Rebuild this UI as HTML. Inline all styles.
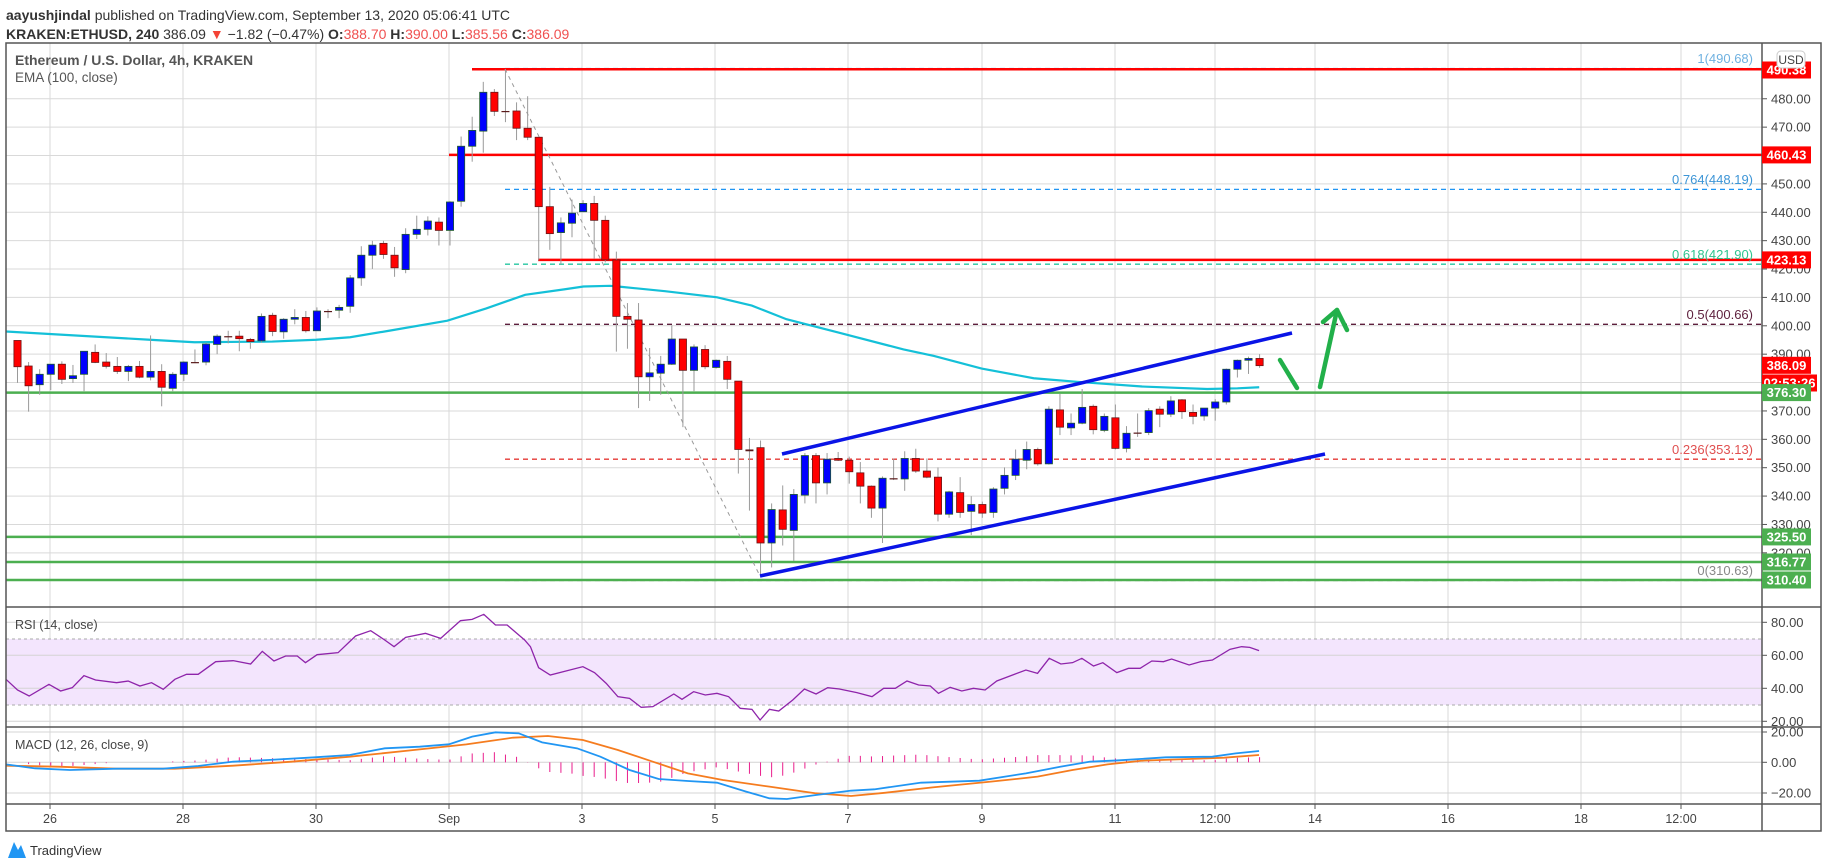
<!DOCTYPE html>
<html><head><meta charset="utf-8">
<style>
html,body{margin:0;padding:0;background:#fff;width:1828px;height:868px;overflow:hidden}
svg text{font-family:"Liberation Sans",sans-serif}
</style></head>
<body>
<svg id="s" width="1828" height="868" xmlns="http://www.w3.org/2000/svg">
<rect width="1828" height="868" fill="#fff"/>
<g id="grid"></g>
<g id="lines"></g>
<g id="cand"></g>
<g id="ov"></g>
<g id="ax"></g>
</svg>
<script>
const NS="http://www.w3.org/2000/svg";
function el(p,t,a,txt){const e=document.createElementNS(NS,t);for(const k in a)e.setAttribute(k,a[k]);if(txt!==undefined)e.textContent=txt;document.getElementById(p).appendChild(e);return e;}
const Y=z=>43+z*0.3597;
const PY=p=>69.3+(490.38-p)*2.838;
const L=6,R=1762,RB=1821;
// vertical grid
const vx=[50,183,316,449,582,715,848,982,1115,1215,1315,1448,1581,1681];
vx.forEach(x=>el('grid','line',{x1:x,y1:43,x2:x,y2:804,stroke:'#d9d9d9','stroke-width':1}));
for(let p=320;p<=480;p+=10){const y=PY(p);el('grid','line',{x1:L,y1:y,x2:R,y2:y,stroke:'#d9d9d9'});}
// rsi
el('grid','rect',{x:L,y:639,width:R-L,height:66,fill:'#f3e5fd'});
[622.3,655.3,688.3,721.3].forEach(y=>el('grid','line',{x1:L,y1:y,x2:R,y2:y,stroke:'#d4d4d4'}));
[639,705].forEach(y=>el('grid','line',{x1:L,y1:y,x2:R,y2:y,stroke:'#aaa','stroke-dasharray':'3,3'}));
[732,762.3,793].forEach(y=>el('grid','line',{x1:L,y1:y,x2:R,y2:y,stroke:'#d4d4d4'}));
// horizontal S/R lines
function hl(y,x1,c,w,d){el('lines','line',{x1:x1,y1:y,x2:R,y2:y,stroke:c,'stroke-width':w||2.5,'stroke-dasharray':d||''});}
// fib
hl(68.5,505,'#64b5f6',1.3,'5,4');
hl(189.4,505,'#2196f3',1.3,'5,4');
hl(264.2,505,'#26c6a0',1.3,'5,4');
hl(324.3,505,'#5d1f3c',1.3,'5,4');
hl(459.2,505,'#e53935',1.3,'5,4');
hl(580.5,505,'#999',1.3,'5,4');
hl(69.3,472,'#ff0000');hl(154.9,449,'#ff0000');hl(259.9,538,'#ff0000');
hl(392.6,L,'#4caf50');hl(536.9,L,'#4caf50');hl(562,L,'#4caf50');hl(580,L,'#4caf50');
// diag fib line
el('lines','line',{x1:505,y1:69,x2:760,y2:576,stroke:'#999','stroke-width':1,'stroke-dasharray':'4,4'});
// EMA
const e7=[[0,802],[385,825],[500,832],[700,830],[813,825],[900,818],[1000,800],[1150,772],[1250,738],[1350,700],[1450,685],[1500,677],[1568,675]];
const e8=[[50,678],[150,690],[270,707],[350,730],[430,768],[550,805],[700,852],[770,870],[880,905],[1000,932],[1100,942],[1250,955],[1400,962],[1470,960],[1520,957]];
let pts=e7.map(p=>[Math.max(L,p[0]*0.389),Y(p[1])]).concat(e8.map(p=>[600+p[0]*0.4337,Y(p[1])]));
el('lines','polyline',{points:pts.map(p=>p.join(',')).join(' '),fill:'none',stroke:'#14c0d8','stroke-width':2.2});
// candles [top,bot,wt,wb,color]
const C=[[827,900,827,945,'r'],[898,953,887,1025,'r'],[921,950,907,978,'b'],[893,921,893,965,'b'],[893,935,885,948,'r'],[925,933,895,945,'b'],[857,921,857,968,'b'],[860,888,838,890,'r'],[887,899,862,905,'r'],[899,913,873,920,'r'],[899,913,895,940,'b'],[899,929,884,932,'r'],[913,929,813,938,'b'],[913,957,893,1010,'r'],[921,960,915,968,'b'],[887,921,885,940,'b'],[887,889,852,890,'d'],[837,887,833,896,'b'],[815,838,810,865,'b'],[815,817,800,835,'d'],[815,822,800,857,'r'],[824,830,820,850,'r'],[760,828,752,833,'b'],[757,802,750,815,'r'],[768,803,765,822,'b'],[763,768,740,782,'b'],[763,800,745,805,'r'],[745,800,735,800,'b'],[745,747,740,765,'d'],[735,743,728,765,'b'],[653,732,645,750,'b'],[590,653,565,675,'b'],[562,590,550,628,'b'],[557,588,550,600,'r'],[590,625,567,650,'r'],[532,630,515,640,'b'],[518,532,480,545,'b'],[495,518,482,535,'b'],[498,521,485,563,'r'],[442,521,440,563,'b'],[287,440,260,455,'b'],[243,287,205,330,'b'],[137,245,108,305,'b'],[137,190,128,203,'r'],[189,191,73,220,'d'],[189,237,165,270,'r'],[237,262,148,270,'r'],[262,455,262,605,'r'],[455,530,400,575,'r'],[500,527,485,615,'b'],[473,501,435,540,'b'],[446,469,437,470,'b'],[446,493,425,600,'r'],[493,603,480,610,'r'],
[603,760,580,858,'r'],[760,768,723,850,'r'],[770,928,723,1015,'r'],[917,928,848,995,'b'],[893,918,870,978,'b'],[823,893,785,895,'b'],[823,910,823,1068,'r'],[845,910,838,968,'b'],[852,900,840,907,'r'],[882,902,880,905,'b'],[885,935,870,962,'r'],[940,1130,940,1197,'r'],[1130,1135,1098,1300,'d'],[1125,1390,1105,1480,'r'],[1297,1390,1280,1458,'b'],[1298,1352,1230,1397,'r'],[1255,1355,1240,1440,'b'],[1147,1257,1140,1280,'b'],[1147,1223,1140,1280,'r'],[1157,1223,1140,1255,'b'],[1155,1160,1137,1162,'r'],[1160,1192,1150,1225,'r'],[1195,1232,1165,1280,'r'],[1232,1293,1230,1320,'r'],[1210,1293,1205,1390,'b'],[1210,1213,1155,1215,'d'],[1155,1212,1135,1245,'b'],[1155,1190,1128,1195,'r'],[1190,1207,1155,1210,'r'],[1207,1310,1180,1330,'r'],[1248,1310,1245,1320,'b'],[1250,1305,1207,1320,'r'],[1283,1302,1260,1368,'b'],[1283,1307,1275,1320,'r'],[1240,1305,1235,1320,'b'],[1202,1238,1180,1255,'b'],[1157,1202,1130,1215,'b'],[1130,1160,1108,1185,'b'],[1130,1170,1125,1175,'r'],[1018,1170,1010,1172,'b'],[1020,1068,975,1090,'r'],[1057,1070,1030,1090,'b'],[1013,1057,962,1060,'b'],[1010,1075,1005,1088,'r'],[1038,1077,1030,1082,'b'],[1042,1127,1005,1130,'r'],[1085,1127,1065,1138,'b'],[1083,1085,1030,1095,'d'],[1022,1083,1015,1090,'b'],[1018,1032,1010,1068,'r'],[995,1032,982,1040,'b'],[992,1025,990,1045,'r'],[1027,1038,1005,1060,'r'],[1015,1037,1015,1050,'b'],[998,1015,990,1050,'b'],[907,998,905,1005,'b'],[882,907,880,930,'b'],[877,882,872,920,'b'],[877,897,865,903,'r']];
C.forEach((c,i)=>{const x=17.5+i*11.09;
 el('cand','line',{x1:x,y1:Y(c[2]),x2:x,y2:Y(c[3]),stroke:'#9a9a9a','stroke-width':1});
 const t=Y(c[0]),b=Y(c[1]);
 if(c[4]=='d'){el('cand','rect',{x:x-4,y:t,width:8,height:Math.max(1.2,b-t),fill:'#5a1a1a'});return;}
 el('cand','rect',{x:x-3.6,y:t,width:7.2,height:Math.max(1,b-t),fill:c[4]=='r'?'#ff0000':'#0000ff',stroke:c[4]=='r'?'#6b1515':'#1f5a2c','stroke-width':0.8});
});
// channel lines
el('ov','line',{x1:782,y1:454,x2:1292,y2:333,stroke:'#0a14e6','stroke-width':3.5});
el('ov','line',{x1:760,y1:576,x2:1325,y2:454,stroke:'#0a14e6','stroke-width':3.5});
// green arrows
el('ov','line',{x1:1280,y1:360,x2:1297,y2:388,stroke:'#22b04a','stroke-width':4.5,'stroke-linecap':'round'});
el('ov','line',{x1:1320,y1:387,x2:1337,y2:310,stroke:'#22b04a','stroke-width':4.5,'stroke-linecap':'round'});
el('ov','polyline',{points:'1323,322 1337,310 1347,330',fill:'none',stroke:'#22b04a','stroke-width':4.5,'stroke-linecap':'round','stroke-linejoin':'round'});
// fib labels
[['1(490.68)',63,'#6fb1e0'],['0.764(448.19)',184,'#3d95d6'],['0.618(421.90)',259,'#2fc48e'],['0.5(400.66)',319,'#5d1f3c'],['0.236(353.13)',454,'#e05050'],['0(310.63)',575,'#888']].forEach(f=>el('ov','text',{x:1753,y:f[1],'text-anchor':'end','font-size':13,fill:f[2]},f[0]));
// RSI
const rsi=[[5,298],[15,330],[25,348],[42,313],[52,333],[62,323],[72,287],[82,300],[100,308],[110,303],[120,318],[130,308],[140,328],[150,298],[160,283],[170,283],[185,245],[200,242],[215,252],[225,214],[235,243],[245,228],[255,228],[262,248],[272,224],[290,218],[305,168],[318,152],[330,180],[338,200],[348,172],[365,160],[378,175],[395,122],[405,118],[415,103],[425,135],[435,135],[450,180],[455,200],[462,263],[472,285],[500,260],[510,278],[520,310],[530,350],[540,355],[550,382],[560,380],[578,342],[585,358],[595,335],[605,345],[615,340],[625,350],[635,385],[645,388],[652,420],[660,388],[668,393],[680,360],[690,327],[700,342],[710,323],[720,327],[735,338],[748,350],[758,325],[768,325],[778,303],[788,315],[798,318],[805,340],[815,322],[825,333],[835,325],[845,330],[855,303],[870,283],[880,270],[890,280],[900,235],[910,252],[920,248],[928,235],[938,258],[946,248],[958,278],[968,265],[978,265],[988,243],[998,245],[1005,237],[1020,255],[1030,245],[1040,240],[1055,208],[1065,200],[1072,202],[1080,212]];
const T=p=>[Math.max(L,p[0]*1.1658),580+p[1]/3];
el('ov','polyline',{points:rsi.map(T).map(p=>p.join(',')).join(' '),fill:'none',stroke:'#8e24aa','stroke-width':1.3});
// MACD
const mb=[[5,553],[30,565],[60,570],[100,566],[140,566],[170,558],[200,545],[230,540],[270,532],[300,525],[330,505],[360,500],[385,493],[405,470],[425,457],[445,460],[465,487],[495,505],[515,530],[540,570],[565,597],[590,603],[615,608],[640,635],[660,655],[675,657],[700,645],[730,632],[750,628],[790,608],[840,602],[880,580],[910,560],[935,545],[960,541],[1000,532],[1040,530],[1060,520],[1080,513]];
const mo=[[5,557],[50,560],[100,566],[150,566],[200,557],[250,545],[300,530],[350,512],[400,493],[440,473],[470,468],[500,480],[530,510],[560,545],[590,580],[620,600],[660,620],[700,640],[730,648],[760,638],[800,622],[850,605],[890,590],[920,570],[950,553],[980,542],[1020,537],[1050,533],[1080,525]];
function interp(a,x){for(let i=0;i<a.length-1;i++){if(x>=a[i][0]&&x<=a[i+1][0]){const t=(x-a[i][0])/(a[i+1][0]-a[i][0]);return a[i][1]+t*(a[i+1][1]-a[i][1]);}}return a[a.length-1][1];}
for(let i=0;i<C.length;i++){const xr=17.5+i*11.09,xz=xr/1.1658;const d=(interp(mo,xz)-interp(mb,xz))*1.3;const y0=580+547/3,y1=580+(547-d)/3;
 el('ov','line',{x1:xr,y1:y0,x2:xr,y2:y1,stroke:'#e91e8c','stroke-width':1});}
el('ov','polyline',{points:mo.map(T).map(p=>p.join(',')).join(' '),fill:'none',stroke:'#f57c1f','stroke-width':1.8});
el('ov','polyline',{points:mb.map(T).map(p=>p.join(',')).join(' '),fill:'none',stroke:'#2196f3','stroke-width':1.8});
// frames
const A='ax';
el(A,'rect',{x:L,y:43,width:RB-L,height:831-43,fill:'none',stroke:'#555','stroke-width':1.5});
el(A,'line',{x1:R,y1:43,x2:R,y2:831,stroke:'#555','stroke-width':1.5});
[607,727,804].forEach(y=>el(A,'line',{x1:L,y1:y,x2:RB,y2:y,stroke:'#555','stroke-width':1.5}));
// price axis labels
function tick(y,t){el(A,'line',{x1:R,y1:y,x2:R+5,y2:y,stroke:'#555'});el(A,'text',{x:1771,y:y+4.5,'font-size':13,fill:'#444'},t);}
[480,470,450,440,430,420,410,400,390,370,360,350,340,330,320].forEach(p=>tick(PY(p),p.toFixed(2)));
[[622.3,'80.00'],[655.3,'60.00'],[688.3,'40.00'],[721.3,'20.00'],[732,'20.00'],[762.3,'0.00'],[793,'−20.00']].forEach(t=>tick(t[0],t[1]));
function box(y,t,c,w){el(A,'rect',{x:R,y:y-8.5,width:w||49,height:17,fill:c});el(A,'text',{x:R+(w||49)/2,y:y+4.5,'text-anchor':'middle','font-size':13,'font-weight':'bold',fill:'#fff'},t);}
box(70,'490.38','#ff0000');box(154.9,'460.43','#ff0000');box(259.9,'423.13','#ff0000');box(365.3,'386.09','#ff0000');box(383,'02:53:26','#ff0000',55);
box(392.6,'376.30','#4caf50');box(536.9,'325.50','#4caf50');box(562,'316.77','#4caf50');box(580,'310.40','#4caf50');
el(A,'rect',{x:1777,y:51,width:28,height:17,rx:4,fill:'#fff',stroke:'#ccc'});
el(A,'text',{x:1791,y:64,'text-anchor':'middle','font-size':12,fill:'#444'},'USD');
// time axis
const tl=['26','28','30','Sep','3','5','7','9','11','12:00','14','16','18','12:00'];
vx.forEach((x,i)=>{el(A,'line',{x1:x,y1:804,x2:x,y2:809,stroke:'#555'});el(A,'text',{x:x,y:823,'text-anchor':'middle','font-size':12.5,fill:'#444'},tl[i]);});
// texts
el(A,'text',{x:15,y:65,'font-size':14,'font-weight':'bold',fill:'#555'},'Ethereum / U.S. Dollar, 4h, KRAKEN');
el(A,'text',{x:15,y:82,'font-size':13.5,fill:'#555'},'EMA (100, close)');
el(A,'text',{x:15,y:629,'font-size':12.5,fill:'#444'},'RSI (14, close)');
el(A,'text',{x:15,y:749,'font-size':12.5,fill:'#444'},'MACD (12, 26, close, 9)');
// header
const h1=el(A,'text',{x:6,y:20,'font-size':14,fill:'#333'});
const s1=document.createElementNS(NS,'tspan');s1.setAttribute('font-weight','bold');s1.textContent='aayushjindal';h1.appendChild(s1);
h1.appendChild(document.createTextNode(' published on TradingView.com, September 13, 2020 05:06:41 UTC'));
const h2=el(A,'text',{x:6,y:39,'font-size':14,fill:'#333'});
function sp(t,a){const s=document.createElementNS(NS,'tspan');for(const k in a)s.setAttribute(k,a[k]);s.textContent=t;h2.appendChild(s);}
sp('KRAKEN:ETHUSD, 240',{'font-weight':'bold'});sp(' 386.09 ',{});sp('▼',{fill:'#f44336'});sp(' −1.82 (−0.47%) ',{});
sp('O:',{'font-weight':'bold'});sp('388.70 ',{fill:'#f05050'});sp('H:',{'font-weight':'bold'});sp('390.00 ',{fill:'#f05050'});
sp('L:',{'font-weight':'bold'});sp('385.56 ',{fill:'#f05050'});sp('C:',{'font-weight':'bold'});sp('386.09',{fill:'#f05050'});
// logo
el(A,'path',{d:'M8 858 L14 842 L18 850 L21 845 L26 858 Z',fill:'#2196f3'});
el(A,'text',{x:30,y:855,'font-size':13,fill:'#333'},'TradingView');
</script>
</body></html>
